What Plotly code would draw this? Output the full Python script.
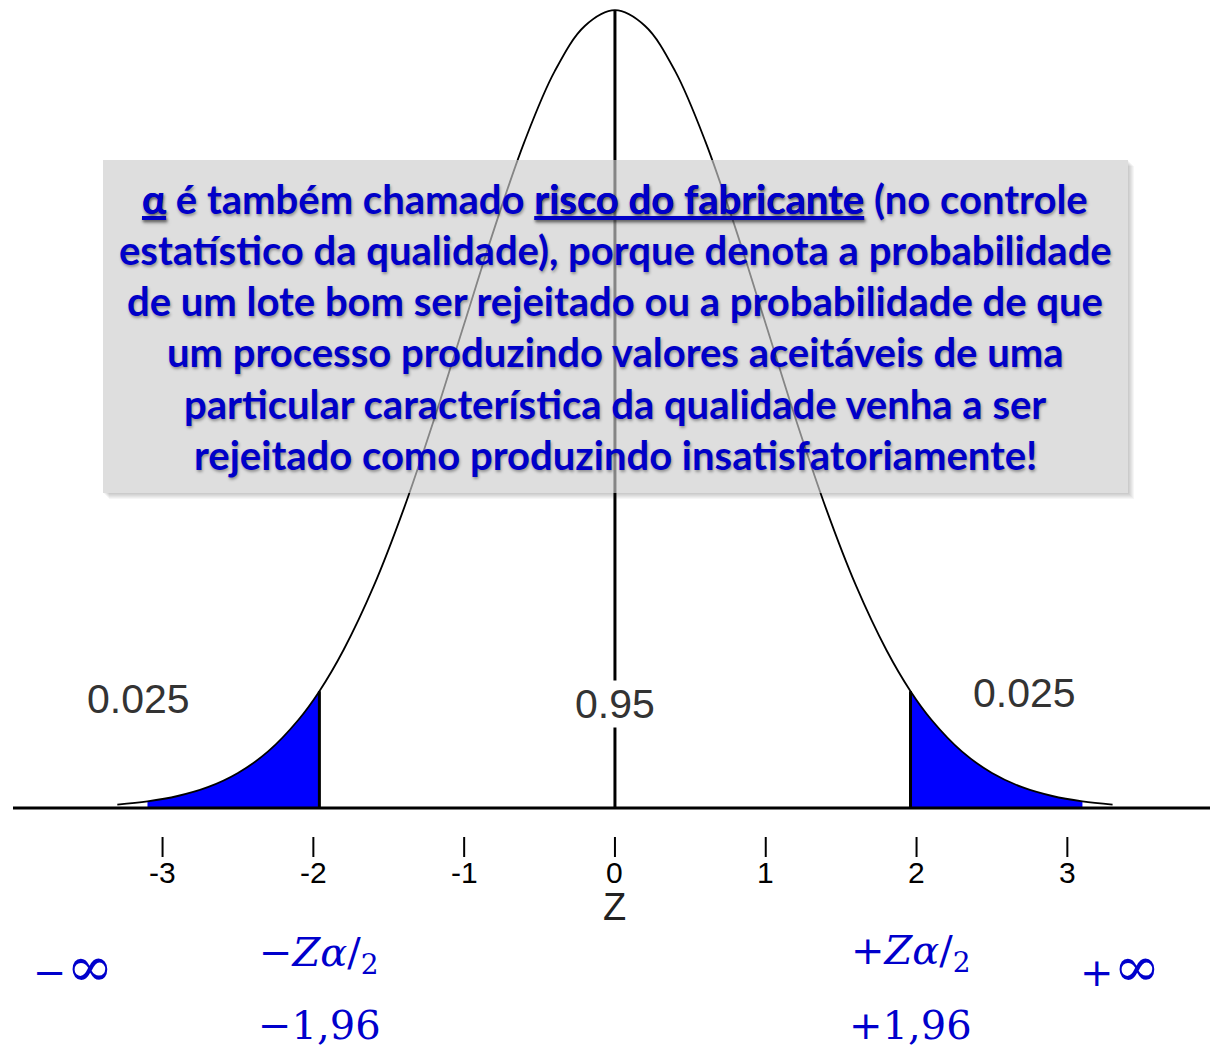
import plotly.graph_objects as go

# Standard normal density, tabulated (z, phi(z))
z_vals = [-3.3, -3.1, -2.9, -2.7, -2.5, -2.3, -2.1, -1.96, -1.8, -1.6, -1.4, -1.2,
          -1.0, -0.8, -0.6, -0.4, -0.2, 0.0, 0.2, 0.4, 0.6, 0.8, 1.0, 1.2, 1.4,
          1.6, 1.8, 1.96, 2.1, 2.3, 2.5, 2.7, 2.9, 3.1, 3.3]
density = [0.0017, 0.0033, 0.0060, 0.0104, 0.0175, 0.0283, 0.0440, 0.0584, 0.0790,
           0.1109, 0.1497, 0.1942, 0.2420, 0.2897, 0.3332, 0.3683, 0.3910, 0.3989,
           0.3910, 0.3683, 0.3332, 0.2897, 0.2420, 0.1942, 0.1497, 0.1109, 0.0790,
           0.0584, 0.0440, 0.0283, 0.0175, 0.0104, 0.0060, 0.0033, 0.0017]

z_crit = 1.96
tail_limit = 3.1
tick_vals = [-3, -2, -1, 0, 1, 2, 3]
tick_text = ["-3", "-2", "-1", "0", "1", "2", "3"]
tail_prob = "0.025"
center_prob = "0.95"
peak = 0.3989

box_lines = [
    "<u>α</u> é também chamado <u>risco do fabricante</u> (no controle",
    "estatístico da qualidade), porque denota a probabilidade",
    "de um lote bom ser rejeitado ou a probabilidade de que",
    "um processo produzindo valores aceitáveis de uma",
    "particular característica da qualidade venha a ser",
    "rejeitado como produzindo insatisfatoriamente!",
]

W, H = 1210, 1051
X_RANGE = [-4.078, 3.946]
Y_RANGE = [-0.1215, 0.404]


def px(x):
    return x / W


def py(y):
    return 1 - y / H


BLUE_TXT = "#0000c8"
MATH_FONT = dict(family="DejaVu Serif", size=40, color="#0000cc")
CENTER = dict(xanchor="center", yanchor="middle", showarrow=False)
INF = '<span style="font-size:56px">∞</span>'

fig = go.Figure()

# shaded tails
left = [(z, d) for z, d in zip(z_vals, density) if -tail_limit - 1e-9 <= z <= -z_crit + 1e-9]
right = [(z, d) for z, d in zip(z_vals, density) if z_crit - 1e-9 <= z <= tail_limit + 1e-9]
for pts in (left, right):
    fig.add_trace(go.Scatter(
        x=[p[0] for p in pts], y=[p[1] for p in pts],
        mode="lines", line=dict(color="#0000ff", width=0, shape="spline"),
        fill="tozeroy", fillcolor="#0000ff", hoverinfo="skip", showlegend=False))

# density curve
fig.add_trace(go.Scatter(
    x=z_vals, y=density, mode="lines",
    line=dict(color="black", width=1.8, shape="spline"),
    hoverinfo="skip", showlegend=False))

shapes = []
# horizontal axis line
shapes.append(dict(type="line", xref="paper", yref="y", x0=px(13), x1=1, y0=0, y1=0,
                   line=dict(color="black", width=3)))
# centre line
shapes.append(dict(type="line", xref="x", yref="y", x0=0, x1=0, y0=0, y1=peak,
                   line=dict(color="black", width=3)))
# critical value lines
for zc in (-z_crit, z_crit):
    shapes.append(dict(type="line", xref="x", yref="y", x0=zc, x1=zc, y0=0,
                       y1=density[z_vals.index(zc)], line=dict(color="black", width=3)))
# ticks below axis
for t in tick_vals:
    shapes.append(dict(type="line", xref="x", yref="y", x0=t, x1=t,
                       y0=-0.0145, y1=-0.0245, line=dict(color="black", width=2)))

# soft shadow along the bottom and right edges of the text box
BX0, BX1, BY0, BY1 = 103, 1128, 160, 493
for off in range(1, 7):
    op = 0.035
    shapes.append(dict(type="rect", xref="paper", yref="paper", layer="above",
                       x0=px(BX0 + off), x1=px(BX1 + off), y0=py(BY1 + off), y1=py(BY1),
                       line=dict(width=0), fillcolor=f"rgba(0,0,0,{op})"))
    shapes.append(dict(type="rect", xref="paper", yref="paper", layer="above",
                       x0=px(BX1), x1=px(BX1 + off), y0=py(BY1), y1=py(BY0 + off),
                       line=dict(width=0), fillcolor=f"rgba(0,0,0,{op})"))
# semi-transparent grey box
shapes.append(dict(type="rect", xref="paper", yref="paper", layer="above",
                   x0=px(BX0), x1=px(BX1), y0=py(BY1), y1=py(BY0),
                   line=dict(width=0), fillcolor="rgba(204,204,204,0.65)"))

annotations = []
for t, lab in zip(tick_vals, tick_text):
    annotations.append(dict(x=t, y=-0.032, xref="x", yref="y", text=lab, **CENTER,
                            font=dict(family="Liberation Sans", size=30, color="black")))
annotations.append(dict(x=0, y=-0.0495, xref="x", yref="y", text="Z", **CENTER,
                        font=dict(family="Liberation Sans", size=38, color="#222")))

prob_font = dict(family="Liberation Sans", size=41, color="#333")
annotations.append(dict(x=px(138), y=py(699), xref="paper", yref="paper", text=tail_prob,
                        **CENTER, font=prob_font))
annotations.append(dict(x=px(1024), y=py(693), xref="paper", yref="paper", text=tail_prob,
                        **CENTER, font=prob_font))
annotations.append(dict(x=0, y=py(704), xref="x", yref="paper", text=center_prob,
                        **CENTER, font=prob_font, bgcolor="white", borderpad=0))

line_y = [199, 250, 301, 352, 404, 455]
for txt, yy in zip(box_lines, line_y):
    annotations.append(dict(x=px(615), y=py(yy), xref="paper", yref="paper", text=txt,
                            **CENTER,
                            font=dict(family="Lato", size=40, weight="bold", color=BLUE_TXT,
                                      shadow="1px 2px 3px rgba(0,0,0,0.35)")))

# critical value labels
annotations.append(dict(x=px(73), y=py(966), xref="paper", yref="paper", text="−" + INF,
                        **CENTER, font=MATH_FONT))
annotations.append(dict(x=px(1120), y=py(966), xref="paper", yref="paper", text="+" + INF,
                        **CENTER, font=MATH_FONT))
annotations.append(dict(x=-z_crit, y=py(955), xref="x", yref="paper",
                        text="−<i>Zα</i>/<sub>2</sub>", **CENTER, font=MATH_FONT))
annotations.append(dict(x=z_crit, y=py(953), xref="x", yref="paper",
                        text="+<i>Zα</i>/<sub>2</sub>", **CENTER, font=MATH_FONT))
annotations.append(dict(x=-z_crit, y=py(1025), xref="x", yref="paper",
                        text="−" + f"{z_crit:.2f}".replace(".", ","), **CENTER, font=MATH_FONT))
annotations.append(dict(x=z_crit, y=py(1025), xref="x", yref="paper",
                        text="+" + f"{z_crit:.2f}".replace(".", ","), **CENTER, font=MATH_FONT))

fig.update_layout(
    width=W, height=H,
    margin=dict(l=0, r=0, t=0, b=0),
    paper_bgcolor="white", plot_bgcolor="white",
    xaxis=dict(range=X_RANGE, visible=False, fixedrange=True),
    yaxis=dict(range=Y_RANGE, visible=False, fixedrange=True),
    shapes=shapes, annotations=annotations,
    showlegend=False,
)

fig.write_html("out.html", config={"displayModeBar": False})
